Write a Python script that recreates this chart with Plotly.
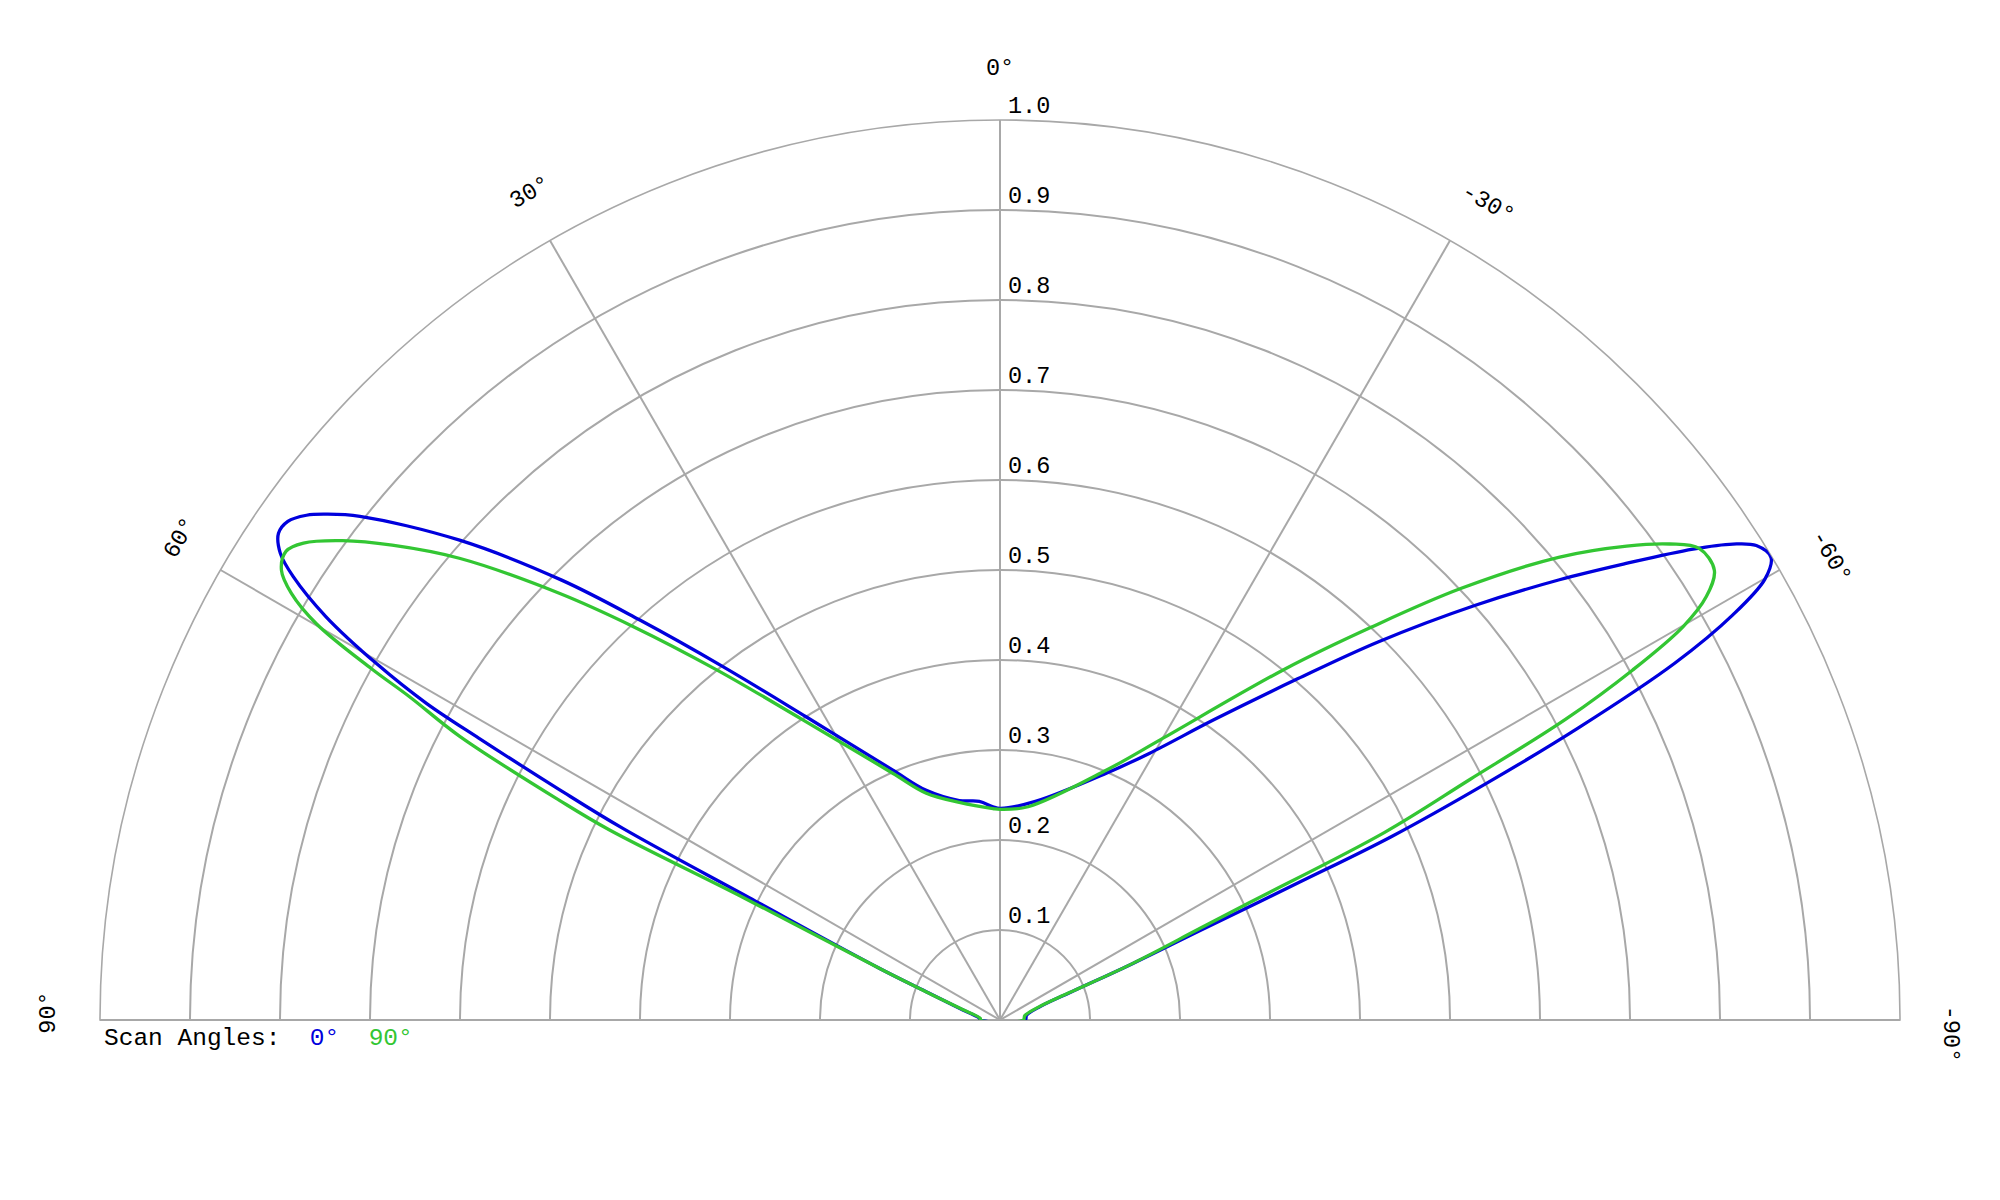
import math
import plotly.graph_objects as go

# ---- data ----
blue_theta = [90, 85, 74, 69.3, 66.8, 64.0, 63.07, 62.4, 61.6, 61.1, 60.25, 59.1, 57.9, 57.04,
              56.0, 55.0, 53.95, 53.1, 51.8, 48.4, 44.9, 42.0, 38.1, 32.6, 23.2, 17.8, 10.5,
              5.4, 1.9, 0, -9.2, -23.4, -29.3, -35.5, -41.1, -45.0, -48.9, -51.8, -53.9,
              -55.8, -57.0, -57.9, -59.04, -60.04, -61.07, -62.13, -63.2, -64.06, -64.9,
              -65.3, -65.9, -67.0, -68.5, -71.5, -80, -90]
blue_r = [0.022, 0.023, 0.047, 0.084, 0.146, 0.31, 0.470, 0.552, 0.658, 0.728, 0.798, 0.873,
          0.927, 0.953, 0.967, 0.966, 0.953, 0.936, 0.905, 0.803, 0.690, 0.598, 0.499, 0.400,
          0.302, 0.268, 0.248, 0.244, 0.237, 0.235, 0.246, 0.299, 0.340, 0.410, 0.503, 0.594,
          0.701, 0.791, 0.861, 0.931, 0.971, 0.992, 0.999, 0.981, 0.930, 0.848, 0.72, 0.601,
          0.48, 0.366, 0.243, 0.156, 0.085, 0.047, 0.030, 0.028]

green_theta = [90, 85, 74, 69.5, 67.0, 64.5, 64.05, 63.5, 62.3, 61.3, 60.8, 59.9, 58.95, 57.95,
               56.7, 55.6, 53.9, 52.0, 49.5, 45.9, 43.0, 39.0, 33.3, 23.5, 18.0, 10.6, 1.9, 0,
               -7.5, -23.1, -29.8, -39.1, -43.4, -46.9, -50.4, -52.9, -54.6, -56.0, -57.8,
               -59.06, -60.06, -61.05, -62.0, -62.9, -64.0, -64.8, -65.4, -67.0, -68.5, -71.5,
               -80, -90]
green_r = [0.022, 0.022, 0.045, 0.082, 0.14, 0.315, 0.483, 0.547, 0.678, 0.748, 0.800, 0.878,
           0.919, 0.942, 0.949, 0.938, 0.904, 0.857, 0.790, 0.681, 0.598, 0.501, 0.399, 0.299,
           0.265, 0.246, 0.235, 0.234, 0.239, 0.302, 0.359, 0.503, 0.601, 0.702, 0.807, 0.873,
           0.913, 0.937, 0.938, 0.915, 0.876, 0.803, 0.712, 0.586, 0.475, 0.306, 0.244, 0.156,
           0.083, 0.045, 0.028, 0.026]

radial_ticks = [0.1, 0.2, 0.3, 0.4, 0.5, 0.6, 0.7, 0.8, 0.9, 1.0]
radial_labels = ["0.1", "0.2", "0.3", "0.4", "0.5", "0.6", "0.7", "0.8", "0.9", "1.0"]
angle_ticks = [90, 60, 30, 0, -30, -60, -90]
angle_labels = ["90°", "60°", "30°", "0°", "-30°", "-60°", "-90°"]

series_names = ["0°", "90°"]
BLUE = "#0000dd"
GREEN = "#33c633"
GRID = "#a8a8a8"
FONT = "Liberation Mono, Courier New, monospace"

fig = go.Figure()
# each pattern is drawn as a closed outline (last point joined back to the first)
fig.add_trace(go.Scatterpolar(theta=blue_theta + blue_theta[:1], r=blue_r + blue_r[:1],
                              mode="lines", name=series_names[0],
                              line=dict(color=BLUE, width=3.3, shape="spline", smoothing=1.0),
                              hoverinfo="skip"))
fig.add_trace(go.Scatterpolar(theta=green_theta + green_theta[:1], r=green_r + green_r[:1],
                              mode="lines", name=series_names[1],
                              line=dict(color=GREEN, width=3.3, shape="spline", smoothing=1.0),
                              hoverinfo="skip"))

annotations = []
# radial tick labels: just right of the 0° spoke, sitting above each ring
# (the polar domain is the full plot area, so paper y == radius on the 0° spoke)
for rv, lab in zip(radial_ticks, radial_labels):
    annotations.append(dict(
        x=0.5, y=rv, xref="paper", yref="paper", text=lab, showarrow=False,
        xanchor="left", yanchor="middle", xshift=6, yshift=14,
        font=dict(family=FONT, size=23.5, color="black")))

# angular labels, written along the outer arc
k = 1.057
char_w = 14.0
for a, lab in zip(angle_ticks, angle_labels):
    t = math.radians(a)
    alpha = math.radians(-a)          # text rotation (clockwise positive)
    d = (len(lab) - 2) * 0.5 * char_w  # label anchored one character in from its start
    annotations.append(dict(
        x=0.5 - 0.5 * k * math.sin(t), y=k * math.cos(t), xref="paper", yref="paper",
        text=lab, showarrow=False, textangle=-a, xanchor="center", yanchor="middle",
        xshift=d * math.cos(alpha), yshift=-d * math.sin(alpha),
        font=dict(family=FONT, size=23.5, color="black")))

annotations.append(dict(
    x=0.0, y=-0.02, xref="paper", yref="paper", xanchor="left", yanchor="middle",
    showarrow=False, xshift=2,
    text=("Scan Angles:\u00a0\u00a0<span style='color:%s'>%s</span>\u00a0\u00a0"
          "<span style='color:%s'>%s</span>") % (BLUE, series_names[0], GREEN, series_names[1]),
    font=dict(family=FONT, size=24.5, color="black")))

fig.update_layout(
    width=2000, height=1200,
    margin=dict(l=92, r=108, t=112, b=188),
    paper_bgcolor="white",
    showlegend=False,
    annotations=annotations,
    polar=dict(
        domain=dict(x=[0, 1], y=[0, 1]),
        sector=[0, 180],
        bgcolor="white",
        radialaxis=dict(range=[0, 1], tickvals=radial_ticks, showticklabels=False,
                        ticks="", showline=False, gridcolor=GRID, gridwidth=1.6,
                        angle=90, layer="below traces"),
        angularaxis=dict(rotation=90, direction="counterclockwise",
                         tickvals=angle_ticks, showticklabels=False, ticks="",
                         showline=True, linecolor=GRID, linewidth=1.6,
                         gridcolor=GRID, gridwidth=1.6, layer="below traces"),
    ),
)

fig.write_html("out.html")
